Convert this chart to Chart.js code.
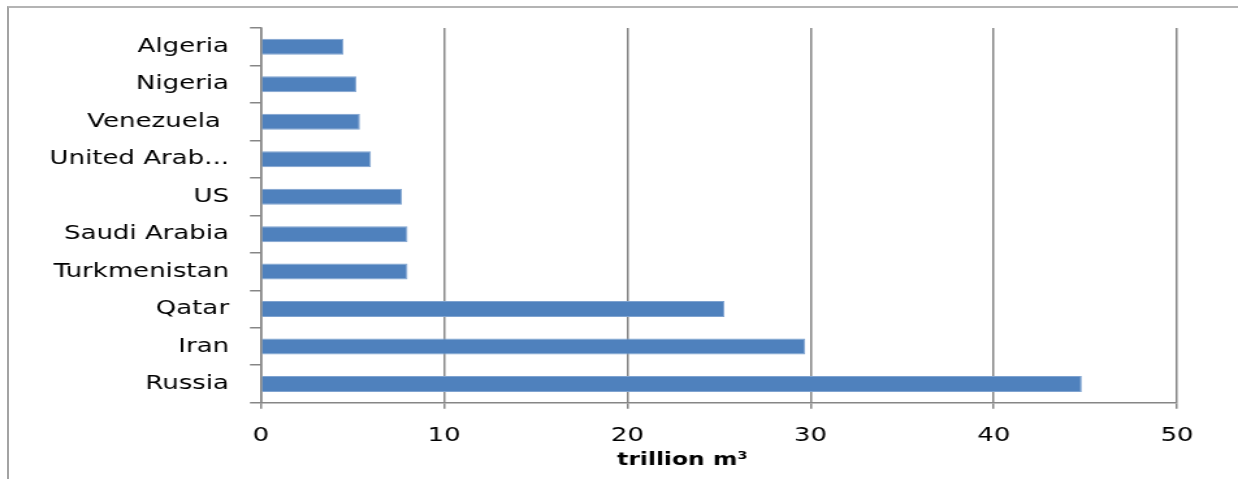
<!DOCTYPE html>
<html>
<head>
<meta charset="utf-8">
<script src="https://cdn.jsdelivr.net/npm/chart.js@4.4.1/dist/chart.umd.min.js"></script>
<style>
  html, body { margin: 0; padding: 0; background: #fff; overflow: hidden; }
  #wrap { position: relative; width: 1238px; height: 479px; overflow: hidden; }
  /* outer chart frame, only top and left edges fall inside the page */
  #frame { position: absolute; left: 7px; top: 6px; width: 1400px; height: 600px;
           border-top: 2px solid #b4b4b4; border-left: 2px solid #a3a3a3; }
  /* chart is laid out narrow, then stretched sideways like the original sheet export */
  #chart { position: absolute; left: 0; top: 0; transform: scaleX(1.30042); transform-origin: 0 0; }
</style>
</head>
<body>
<div id="wrap">
  <div id="frame"></div>
  <canvas id="chart" width="952" height="479"></canvas>
</div>
<script>
// proven natural gas reserves, largest first
const countries = ['Russia', 'Iran', 'Qatar', 'Turkmenistan', 'Saudi Arabia', 'US',
                   'United Arab...', 'Venezuela ', 'Nigeria', 'Algeria'];
const reserves = [44.8, 29.7, 25.3, 8.0, 8.0, 7.7, 6.0, 5.4, 5.2, 4.5];
const xTicks = [0, 10, 20, 30, 40, 50];
const axisTitle = 'trillion m³' + '\u00a0'.repeat(9);

const gridGray = '#868686';

Chart.defaults.font.family = "'DejaVu Sans', sans-serif";
Chart.defaults.color = '#000';

const ctx = document.getElementById('chart').getContext('2d');
const chart = new Chart(ctx, {
    type: 'bar',
    data: {
        labels: countries,
        datasets: [{
            data: reserves,
            backgroundColor: '#4F81BD',
            borderColor: '#7fa3d0',
            borderWidth: 1,
            barPercentage: 0.427,
            categoryPercentage: 1.0
        }]
    },
    options: {
        indexAxis: 'y',
        responsive: false,
        devicePixelRatio: 1,
        animation: false,
        layout: {
            padding: { top: 27.7, right: 46.9, bottom: 0, left: 0 }
        },
        plugins: {
            legend: { display: false },
            tooltip: { enabled: false }
        },
        scales: {
            x: {
                type: 'linear',
                min: 0,
                max: 50,
                afterBuildTicks: (scale) => {
                    scale.ticks = xTicks.map(v => ({ value: v }));
                },
                afterFit: (scale) => { scale.height = 76.3; },
                grid: {
                    color: gridGray,
                    lineWidth: 1.5,
                    tickLength: 6
                },
                border: { color: gridGray, width: 1.5 },
                ticks: {
                    padding: 14.6,
                    font: { size: 20 },
                    maxRotation: 0
                },
                title: {
                    display: true,
                    text: axisTitle,
                    font: { size: 18, weight: 'bold' },
                    padding: { top: 0, bottom: 7.7 }
                }
            },
            y: {
                reverse: true,
                afterFit: (scale) => { scale.width = 200.7; },
                grid: {
                    drawOnChartArea: false,
                    offset: true,
                    color: gridGray,
                    lineWidth: 1.5,
                    tickLength: 8.5
                },
                border: { color: gridGray, width: 1.5 },
                ticks: {
                    padding: 16.1,
                    font: { size: 20 },
                    autoSkip: false
                }
            }
        }
    }
});
</script>
</body>
</html>
